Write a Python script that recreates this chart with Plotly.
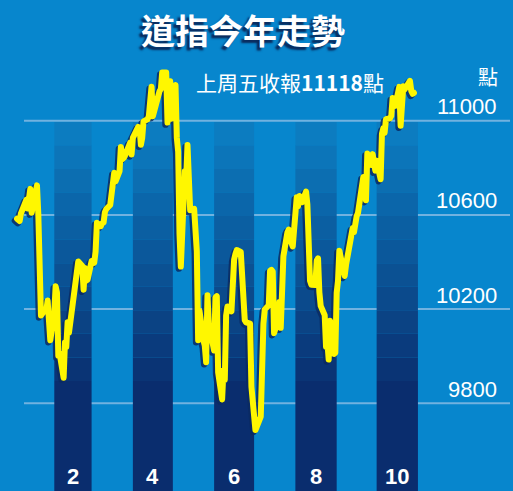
import pandas as pd
import plotly.graph_objects as go

# ---------------- data ----------------
holidays = ["2010-01-18", "2010-02-15", "2010-04-02", "2010-05-31",
            "2010-07-05", "2010-09-06"]
dates = [d for d in pd.bdate_range("2010-01-04", "2010-10-29")
         if d.strftime("%Y-%m-%d") not in holidays]

close = [
    # Jan
    10583.96, 10572.02, 10573.68, 10606.86, 10618.19, 10663.99, 10627.26, 10680.77,
    10710.55, 10609.65, 10725.43, 10603.15, 10389.88, 10172.98, 10196.86, 10194.29,
    10236.16, 10120.46, 10067.33,
    # Feb
    10185.53, 10296.85, 10270.55, 10002.18, 10012.23, 9908.39, 10058.64, 10038.38,
    10144.19, 10099.14, 10268.81, 10309.24, 10392.90, 10402.35, 10383.38, 10282.41,
    10374.16, 10321.03, 10325.26,
    # Mar
    10403.79, 10405.98, 10396.76, 10444.14, 10566.20, 10552.52, 10564.38, 10567.65,
    10611.84, 10624.69, 10642.15, 10685.98, 10733.67, 10779.17, 10741.98, 10785.89,
    10888.83, 10836.15, 10841.21, 10850.36, 10895.86, 10907.42, 10856.63,
    # Apr
    10927.07, 10973.55, 10969.99, 10897.52, 10927.07, 10997.35, 11005.97, 11019.42,
    11123.11, 11144.57, 11018.66, 11092.05, 11117.06, 11124.92, 11134.29, 11204.28,
    11205.03, 10991.99, 11045.27, 11167.32, 11008.61,
    # May
    11151.83, 10926.77, 10868.12, 10520.32, 10380.43, 10785.14, 10748.26, 10896.91,
    10782.95, 10620.16, 10625.83, 10510.95, 10444.37, 10068.01, 10193.39, 10066.57,
    10043.75, 9974.45, 10258.99, 10136.63,
    # Jun
    10024.02, 10249.54, 10255.28, 9931.97, 9816.49, 9939.98, 9899.25, 10172.53,
    10211.07, 10190.89, 10404.77, 10409.46, 10434.17, 10450.64, 10442.41, 10293.52,
    10298.44, 10152.80, 10143.81, 10138.52, 9870.30, 9774.02,
    # Jul
    9732.53, 9686.48, 9743.62, 10018.28, 10138.99, 10198.03, 10216.27, 10363.02,
    10366.72, 10359.31, 10097.90, 10154.43, 10229.96, 10120.53, 10322.30, 10424.62,
    10525.43, 10537.69, 10497.88, 10467.16, 10465.94,
    # Aug
    10674.38, 10636.38, 10680.43, 10674.98, 10653.56, 10698.75, 10644.25, 10378.83,
    10319.95, 10303.15, 10302.01, 10405.85, 10415.54, 10271.21, 10213.62, 10174.41,
    10040.45, 10060.06, 9985.81, 10150.65, 10009.73, 10014.72,
    # Sep
    10269.47, 10320.10, 10447.93, 10340.69, 10387.01, 10415.24, 10462.77, 10544.13,
    10526.49, 10572.73, 10594.83, 10607.85, 10753.62, 10761.03, 10739.31, 10662.42,
    10860.26, 10812.04, 10858.14, 10835.28, 10788.05,
    # Oct
    10829.68, 10751.27, 10944.72, 10967.65, 10948.58, 11006.48, 11010.34, 11020.40,
    11096.08, 11094.57, 11062.78, 11143.69, 10978.62, 11107.97, 11146.57, 11132.56,
    11164.05, 11169.46, 11126.28, 11113.95, 11118.49,
]

band_months = [2, 4, 6, 8, 10]
month_labels = ["2", "4", "6", "8", "10"]
y_ticks = [9800, 10200, 10600, 11000]
y_tick_labels = ["9800", "10200", "10600", "11000"]
title_text = "道指今年走勢"
subtitle_text = "上周五收報<b>11118</b>點"
unit_text = "點"

# ---------------- styling / scales ----------------
W, H = 513, 491
BG = "#0786cd"
PX_PER_DAY = 1.332
JAN1_PX = 13
PX_PER_PT = 0.2355
Y11000_PX = 120.7

jan1 = pd.Timestamp("2010-01-01")
x_lo = jan1 - pd.Timedelta(days=JAN1_PX / PX_PER_DAY)
x_hi = jan1 + pd.Timedelta(days=(W - JAN1_PX) / PX_PER_DAY)
y_hi = 11000 + Y11000_PX / PX_PER_PT
y_lo = 11000 - (H - Y11000_PX) / PX_PER_PT

# main axes (x, y) carry the drop shadow, shifted a couple of pixels left/down;
# the overlay axes (x2, y2) carry the true scale for the line, bands and grid.
sdx = pd.Timedelta(days=2.0 / PX_PER_DAY)
sdy = 2.0 / PX_PER_PT

fig = go.Figure()
fig.add_trace(go.Scatter(x=dates, y=close, mode="lines", xaxis="x", yaxis="y",
                         line=dict(color="#0b2a62", width=6.5), hoverinfo="skip",
                         opacity=0.85, showlegend=False))
fig.add_trace(go.Scatter(x=dates, y=close, mode="lines", xaxis="x2", yaxis="y2",
                         line=dict(color="#fff700", width=6),
                         showlegend=False))

shapes = []
top_c = (12, 124, 192)
bot_c = (10, 45, 110)
n_steps = 12
band_top = 10995
step = 100
for m in band_months:
    x0 = pd.Timestamp(2010, m, 1)
    x1 = pd.Timestamp(2010, m + 1, 1)
    for i in range(n_steps):
        t = i / (n_steps - 1)
        c = tuple(round(top_c[k] + (bot_c[k] - top_c[k]) * t) for k in range(3))
        y1 = band_top - i * step
        y0 = band_top - (i + 1) * step if i < n_steps - 1 else y_lo - 50
        shapes.append(dict(type="rect", xref="x2", yref="y2", x0=x0, x1=x1,
                           y0=y0, y1=y1, fillcolor="rgb(%d,%d,%d)" % c,
                           line=dict(width=0), layer="below"))
for v in y_ticks:
    shapes.append(dict(type="line", xref="paper", yref="y2", x0=24 / W, x1=510 / W,
                       y0=v, y1=v, line=dict(color="rgba(200,215,240,0.55)", width=2),
                       layer="below"))

annotations = []
for v, t in zip(y_ticks, y_tick_labels):
    annotations.append(dict(x=499 / W, xref="paper", y=v, yref="y2", text=t,
                            xanchor="right", yanchor="middle", yshift=14,
                            showarrow=False,
                            font=dict(family="Liberation Sans, Arial", size=22,
                                      color="white")))
for m, t in zip(band_months, month_labels):
    mid = pd.Timestamp(2010, m, 1) + (pd.Timestamp(2010, m + 1, 1) - pd.Timestamp(2010, m, 1)) / 2
    annotations.append(dict(x=mid, xref="x2", y=1 - 476 / H, yref="paper", text="<b>%s</b>" % t,
                            xanchor="center", yanchor="middle", showarrow=False,
                            font=dict(family="Liberation Sans, Arial", size=22,
                                      color="white")))
annotations.append(dict(x=243 / W, xref="paper", y=1 - 30 / H, yref="paper",
                        text="<b>%s</b>" % title_text, xanchor="center", yanchor="middle",
                        showarrow=False,
                        font=dict(family="Noto Sans CJK TC", size=34, color="white",
                                  shadow="-3px 3px 2px #0a2a5c")))
annotations.append(dict(x=386 / W, xref="paper", y=1 - 82 / H, yref="paper",
                        text=subtitle_text, xanchor="right", yanchor="middle",
                        showarrow=False,
                        font=dict(family="Noto Sans CJK TC", size=21, color="white")))
annotations.append(dict(x=500 / W, xref="paper", y=1 - 77 / H, yref="paper",
                        text=unit_text, xanchor="right", yanchor="middle",
                        showarrow=False,
                        font=dict(family="Noto Sans CJK TC", size=20, color="white")))

fig.update_layout(
    width=W, height=H,
    margin=dict(l=0, r=0, t=0, b=0, pad=0),
    paper_bgcolor=BG, plot_bgcolor=BG,
    xaxis=dict(range=[x_lo + sdx, x_hi + sdx], visible=False, showgrid=False),
    yaxis=dict(range=[y_lo + sdy, y_hi + sdy], visible=False, showgrid=False),
    xaxis2=dict(range=[x_lo, x_hi], overlaying="x", visible=False),
    yaxis2=dict(range=[y_lo, y_hi], overlaying="y", visible=False),
    shapes=shapes,
    annotations=annotations,
    showlegend=False,
)

post = (
    "document.body.style.margin='0';document.body.style.overflow='hidden';"
    "document.querySelectorAll('.scatterlayer path.js-line').forEach("
    "function(p){p.style.strokeLinejoin='round';p.style.strokeLinecap='round';});"
)
fig.write_html("out.html", config={"displayModeBar": False, "staticPlot": True},
               post_script=post)
